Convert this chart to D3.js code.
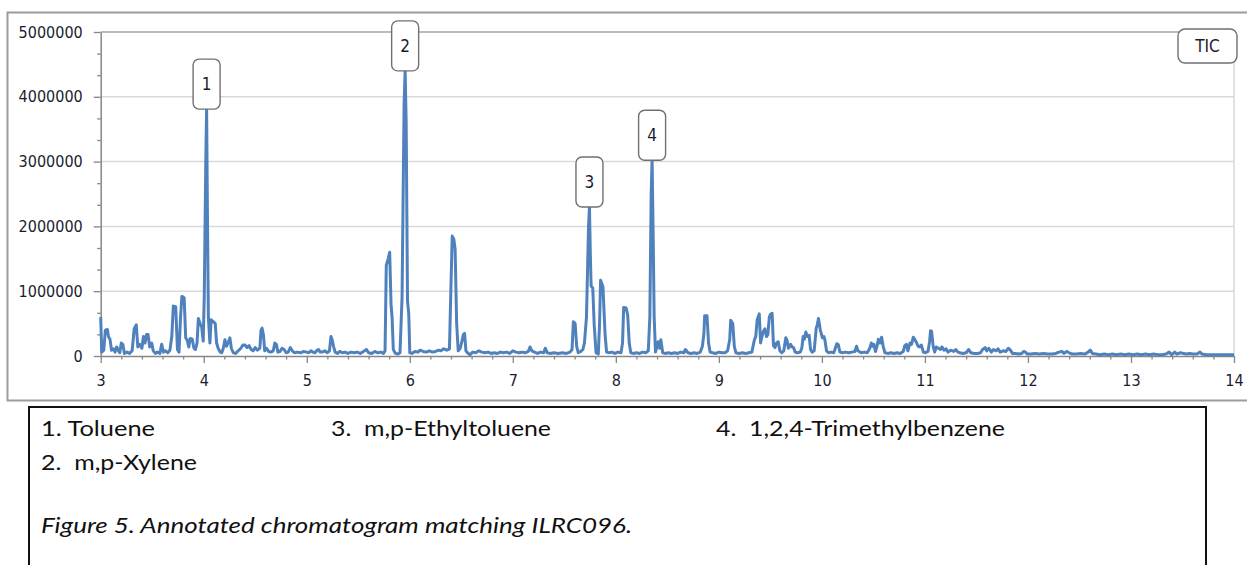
<!DOCTYPE html>
<html>
<head>
<meta charset="UTF-8">
<title>Annotated chromatogram</title>
<script src="https://cdn.jsdelivr.net/npm/d3@7"></script>
<style>
  body { margin: 0; background: #fff; }
  svg { display: block; }
  .tick text { font-family: "DejaVu Sans Condensed", "DejaVu Sans", sans-serif; font-size: 16px; fill: #1c1c30; }
  .legend { font-family: Lato, "Open Sans", sans-serif; font-size: 21px; fill: #111; white-space: pre; }
</style>
</head>
<body>
<svg id="chart" width="1247" height="565"></svg>
<script>
// retention time (min) and total ion current
const rt = [3.000,3.010,3.030,3.045,3.065,3.075,3.090,3.105,3.125,3.140,3.155,3.170,3.185,3.200,3.215,3.230,3.255,3.280,3.305,3.325,3.345,3.360,3.380,3.400,3.415,3.430,3.445,3.460,3.475,3.495,3.510,3.530,3.550,3.575,3.592,3.610,3.630,3.650,3.672,3.690,3.705,3.728,3.745,3.760,3.775,3.788,3.810,3.825,3.840,3.855,3.868,3.888,3.905,3.920,3.935,3.948,3.965,3.980,3.995,4.005,4.020,4.028,4.036,4.045,4.060,4.072,4.085,4.100,4.112,4.125,4.140,4.160,4.175,4.190,4.206,4.222,4.240,4.254,4.268,4.287,4.310,4.335,4.360,4.380,4.400,4.420,4.440,4.460,4.480,4.500,4.520,4.545,4.556,4.566,4.580,4.592,4.610,4.630,4.650,4.675,4.690,4.705,4.720,4.740,4.760,4.780,4.800,4.820,4.840,4.860,4.880,4.910,4.940,4.970,5.000,
  5.020,5.040,5.060,5.080,5.100,5.115,5.130,5.150,5.175,5.200,5.220,5.235,5.245,5.260,5.275,5.300,5.320,5.345,5.370,5.400,5.430,5.460,5.490,5.520,5.550,5.580,5.600,5.630,5.660,5.690,5.720,5.745,5.760,5.772,5.790,5.805,5.818,5.828,5.840,5.860,5.885,5.905,5.925,5.945,5.955,5.965,5.978,5.990,6.000,6.020,6.050,6.080,6.100,6.130,6.160,6.190,6.220,6.250,6.280,6.300,6.330,6.360,6.385,6.400,6.412,6.428,6.440,6.455,6.470,6.490,6.505,6.520,6.532,6.545,6.560,6.585,6.610,6.640,6.670,6.700,6.730,6.760,6.790,6.820,6.850,6.880,6.910,6.940,6.970,
  7.000,7.030,7.060,7.090,7.120,7.150,7.167,7.185,7.210,7.240,7.270,7.300,7.315,7.335,7.360,7.400,7.440,7.480,7.520,7.555,7.575,7.588,7.605,7.620,7.635,7.660,7.680,7.695,7.715,7.735,7.744,7.752,7.760,7.776,7.790,7.808,7.830,7.842,7.852,7.875,7.895,7.910,7.935,7.960,7.990,8.020,8.050,8.065,8.076,8.100,8.115,8.130,8.145,8.170,8.200,8.230,8.260,8.290,8.315,8.330,8.343,8.352,8.362,8.372,8.385,8.410,8.425,8.437,8.455,8.480,8.510,8.540,8.570,8.600,8.630,8.660,8.675,8.700,8.730,8.760,8.790,8.820,8.840,8.855,8.862,8.885,8.900,8.915,8.940,8.970,
  9.000,9.030,9.060,9.085,9.105,9.115,9.135,9.150,9.165,9.195,9.230,9.260,9.290,9.320,9.345,9.358,9.372,9.392,9.405,9.418,9.432,9.447,9.462,9.475,9.490,9.500,9.517,9.530,9.545,9.560,9.576,9.592,9.610,9.630,9.650,9.662,9.675,9.696,9.710,9.725,9.740,9.760,9.790,9.805,9.818,9.830,9.844,9.860,9.876,9.890,9.905,9.925,9.945,9.955,9.967,9.985,
  10.005,10.020,10.030,10.045,10.065,10.090,10.115,10.130,10.145,10.160,10.175,10.200,10.230,10.260,10.290,10.320,10.336,10.350,10.380,10.410,10.440,10.465,10.480,10.495,10.505,10.520,10.535,10.548,10.565,10.580,10.595,10.612,10.640,10.670,10.700,10.730,10.760,10.790,10.805,10.820,10.835,10.855,10.870,10.887,10.900,10.920,10.935,10.950,10.965,10.985,
  11.005,11.030,11.045,11.055,11.065,11.080,11.095,11.110,11.130,11.150,11.165,11.185,11.205,11.225,11.250,11.280,11.300,11.320,11.340,11.370,11.400,11.425,11.445,11.480,11.510,11.540,11.560,11.585,11.600,11.620,11.645,11.665,11.690,11.710,11.730,11.760,11.785,11.810,11.830,11.850,11.880,11.910,11.940,11.960,11.975,11.995,
  12.030,12.070,12.110,12.150,12.190,12.230,12.270,12.300,12.330,12.350,12.375,12.400,12.430,12.470,12.510,12.550,12.585,12.605,12.625,12.660,12.700,12.740,12.780,12.820,12.860,12.900,12.940,12.980,
  13.020,13.060,13.100,13.140,13.180,13.220,13.260,13.300,13.340,13.370,13.395,13.425,13.445,13.480,13.510,13.540,13.570,13.600,13.640,13.670,13.690,13.730,13.780,13.830,13.880,13.930,13.970,14.000];

const tic = [600000,60000,90000,400000,410000,300000,260000,90000,110000,60000,140000,90000,50000,200000,180000,40000,60000,40000,80000,420000,480000,140000,180000,120000,300000,200000,330000,330000,140000,200000,80000,40000,60000,40000,180000,60000,80000,50000,90000,300000,770000,760000,100000,60000,600000,920000,900000,280000,240000,140000,270000,260000,120000,100000,200000,580000,500000,450000,230000,900000,3000000,3810000,2200000,600000,200000,560000,540000,520000,500000,200000,120000,60000,50000,120000,250000,150000,220000,280000,120000,50000,40000,80000,120000,170000,170000,130000,160000,100000,80000,130000,90000,120000,400000,430000,320000,80000,120000,70000,60000,80000,200000,180000,60000,70000,120000,100000,50000,60000,130000,80000,50000,60000,50000,70000,60000,
  50000,80000,60000,50000,90000,100000,60000,60000,80000,50000,80000,300000,260000,150000,60000,40000,70000,50000,60000,40000,60000,50000,60000,40000,70000,100000,50000,40000,70000,50000,60000,40000,80000,1400000,1500000,1600000,800000,600000,100000,40000,30000,50000,900000,3900000,4400000,3600000,850000,650000,50000,40000,70000,60000,90000,70000,60000,80000,60000,70000,90000,80000,110000,90000,110000,1100000,1850000,1800000,1650000,500000,80000,120000,220000,330000,350000,80000,50000,20000,60000,50000,80000,60000,50000,60000,40000,50000,40000,60000,50000,60000,40000,
  80000,60000,50000,60000,50000,70000,140000,80000,60000,40000,60000,50000,120000,50000,40000,50000,40000,50000,40000,60000,100000,530000,500000,150000,50000,70000,100000,200000,600000,2000000,2300000,1600000,1080000,1050000,480000,50000,30000,500000,1170000,1070000,350000,60000,50000,60000,40000,60000,50000,200000,750000,740000,630000,200000,50000,40000,50000,40000,60000,50000,80000,600000,2500000,3020000,1900000,600000,60000,220000,120000,250000,50000,40000,50000,40000,50000,40000,60000,50000,100000,50000,40000,50000,40000,60000,150000,350000,620000,620000,200000,60000,50000,40000,
  60000,50000,50000,80000,250000,550000,500000,150000,50000,40000,50000,40000,50000,60000,250000,300000,560000,650000,200000,300000,380000,420000,300000,330000,600000,640000,660000,160000,130000,200000,220000,80000,50000,80000,280000,240000,120000,180000,140000,130000,60000,50000,60000,120000,300000,260000,370000,300000,320000,100000,60000,80000,430000,480000,580000,400000,
  280000,300000,240000,80000,50000,60000,50000,120000,190000,170000,60000,50000,60000,50000,60000,70000,150000,80000,50000,60000,50000,120000,200000,150000,180000,70000,150000,260000,200000,290000,150000,50000,40000,50000,40000,50000,40000,70000,160000,180000,80000,200000,180000,290000,260000,200000,150000,140000,170000,60000,
  50000,70000,220000,390000,380000,150000,60000,140000,120000,100000,140000,90000,110000,60000,90000,70000,100000,60000,50000,40000,50000,100000,50000,40000,40000,50000,100000,130000,80000,120000,60000,100000,80000,110000,60000,80000,70000,120000,90000,40000,40000,30000,40000,70000,60000,30000,
  30000,40000,30000,40000,30000,30000,40000,60000,70000,40000,70000,50000,30000,30000,40000,30000,60000,90000,40000,30000,20000,30000,20000,30000,20000,30000,20000,30000,
  20000,30000,20000,30000,20000,30000,20000,20000,30000,60000,20000,60000,30000,50000,40000,30000,40000,30000,30000,60000,30000,20000,20000,20000,20000,20000,20000,20000];

// annotated peaks
const peakNo = ["1", "2", "3", "4"];
const peakRt = [4.028, 5.955, 7.744, 8.352];
const peakTic = [3810000, 4400000, 2300000, 3020000];

const compounds = ["1. Toluene", "2.  m,p-Xylene", "3.  m,p-Ethyltoluene", "4.  1,2,4-Trimethylbenzene"];
const caption = "Figure 5. Annotated chromatogram matching ILRC096.";

const yMajor = [0, 1000000, 2000000, 3000000, 4000000, 5000000];
const xMajor = [3, 4, 5, 6, 7, 8, 9, 10, 11, 12, 13, 14];

const svg = d3.select("#chart");

const x = d3.scaleLinear().domain([3, 14]).range([100.7, 1234]);
const y = d3.scaleLinear().domain([0, 5000000]).range([356, 32]);

// outer chart frame
svg.append("rect")
  .attr("x", 7.5).attr("y", 12.5)
  .attr("width", 1260).attr("height", 388)
  .attr("fill", "none").attr("stroke", "#9b9ba3").attr("stroke-width", 2);

// gridlines
svg.append("g").selectAll("line")
  .data(yMajor.slice(1))
  .enter().append("line")
  .attr("x1", x(3)).attr("x2", x(14))
  .attr("y1", d => y(d)).attr("y2", d => y(d))
  .attr("stroke", d => d === 5000000 ? "#a6a6a6" : "#d9d9d9")
  .attr("stroke-width", 1.5);

svg.append("line")
  .attr("x1", x(14)).attr("x2", x(14))
  .attr("y1", y(5000000)).attr("y2", y(0))
  .attr("stroke", "#d9d9d9").attr("stroke-width", 1.5);

// minor ticks
const yMinor = d3.range(0, 5000001, 1000000 / 3).filter(v => Math.abs(v / 1000000 - Math.round(v / 1000000)) > 1e-6);
svg.append("g")
  .attr("transform", "translate(" + x(3) + ",0)")
  .call(d3.axisLeft(y).tickValues(yMinor).tickSize(3.5).tickFormat(""))
  .call(g => g.select(".domain").remove())
  .call(g => g.selectAll("line").attr("stroke", "#868686").attr("stroke-width", 1.3));

const xMinor = d3.range(3, 14.001, 0.2).filter(v => Math.abs(v - Math.round(v)) > 1e-6);
svg.append("g")
  .attr("transform", "translate(0," + y(0) + ")")
  .call(d3.axisBottom(x).tickValues(xMinor).tickSize(3.5).tickFormat(""))
  .call(g => g.select(".domain").remove())
  .call(g => g.selectAll("line").attr("stroke", "#868686").attr("stroke-width", 1.3));

// major axes
svg.append("g")
  .attr("transform", "translate(" + x(3) + ",0)")
  .call(d3.axisLeft(y).tickValues(yMajor).tickSize(7).tickSizeOuter(0).tickPadding(11).tickFormat(d3.format("d")))
  .call(g => g.select(".domain").attr("stroke", "#868686").attr("stroke-width", 1.5))
  .call(g => g.selectAll(".tick line").attr("stroke", "#868686").attr("stroke-width", 1.3));

svg.append("g")
  .attr("transform", "translate(0," + y(0) + ")")
  .call(d3.axisBottom(x).tickValues(xMajor).tickSize(7).tickSizeOuter(0).tickPadding(12).tickFormat(d3.format("d")))
  .call(g => g.select(".domain").attr("stroke", "#868686").attr("stroke-width", 1.5))
  .call(g => g.selectAll(".tick line").attr("stroke", "#868686").attr("stroke-width", 1.3));

// trace
const points = rt.map((t, i) => [t, tic[i]]);
svg.append("path")
  .datum(points)
  .attr("fill", "none")
  .attr("stroke", "#4f81bd")
  .attr("stroke-width", 3)
  .attr("stroke-linejoin", "round")
  .attr("d", d3.line().x(d => x(d[0])).y(d => y(d[1])));

// peak callouts
const callout = svg.append("g").selectAll("g")
  .data(peakNo)
  .enter().append("g")
  .attr("transform", (d, i) => "translate(" + x(peakRt[i]) + "," + y(peakTic[i]) + ")");

callout.append("rect")
  .attr("x", -13.5).attr("y", -50)
  .attr("width", 27).attr("height", 50)
  .attr("rx", 6)
  .attr("fill", "#fff").attr("stroke", "#707070").attr("stroke-width", 1.4);

callout.append("text")
  .attr("y", -25).attr("dy", "0.36em")
  .attr("text-anchor", "middle")
  .style("font-family", "\"DejaVu Sans Condensed\", \"DejaVu Sans\", sans-serif")
  .style("font-size", "17px").style("fill", "#1c1c30")
  .text(d => d);

// series tag
svg.append("rect")
  .attr("x", 1178).attr("y", 29)
  .attr("width", 59).attr("height", 34)
  .attr("rx", 7)
  .attr("fill", "#fff").attr("stroke", "#707070").attr("stroke-width", 1.4);
svg.append("text")
  .attr("x", 1207.5).attr("y", 46).attr("dy", "0.36em")
  .attr("text-anchor", "middle")
  .style("font-family", "\"DejaVu Sans Condensed\", \"DejaVu Sans\", sans-serif")
  .style("font-size", "17px").style("fill", "#1c1c30")
  .text("TIC");

// legend box below the chart
svg.append("path")
  .attr("d", "M29,570 V407 H1206 V570")
  .attr("fill", "none").attr("stroke", "#111").attr("stroke-width", 2);

const legendPos = [[41, 436, 114], [41, 470, 156], [331, 436, 220], [716, 436, 289]];
svg.append("g").selectAll("text")
  .data(compounds)
  .enter().append("text")
  .attr("class", "legend")
  .attr("x", (d, i) => legendPos[i][0])
  .attr("y", (d, i) => legendPos[i][1])
  .attr("textLength", (d, i) => legendPos[i][2])
  .attr("lengthAdjust", "spacingAndGlyphs")
  .text(d => d);

svg.append("text")
  .attr("class", "legend")
  .attr("x", 41).attr("y", 533)
  .attr("textLength", 591)
  .attr("lengthAdjust", "spacingAndGlyphs")
  .style("font-style", "italic")
  .text(caption);
</script>
</body>
</html>
